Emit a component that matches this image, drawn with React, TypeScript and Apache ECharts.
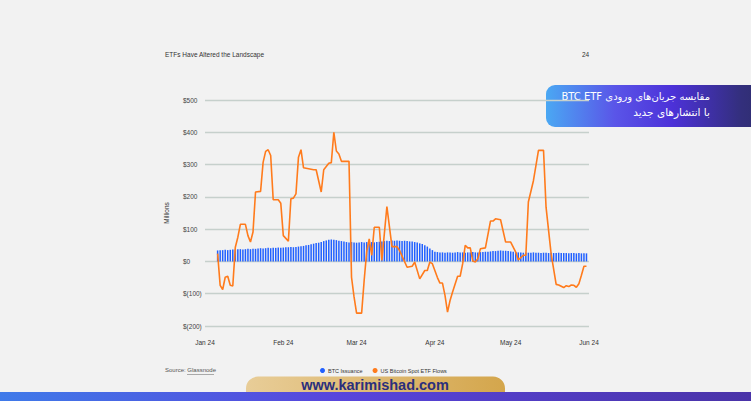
import React, { useEffect, useRef } from "react";
import * as echarts from "echarts";

// ---- data ----
const monthNames = ["Jan", "Feb", "Mar", "Apr", "May", "Jun"];
const yTicks = [-200, -100, 0, 100, 200, 300, 400, 500];
const issuanceStart = "2024-01-06";
// BTC Issuance, $M per day (from 2024-01-06 to 2024-05-31)
const issuance = [
  34, 35, 35, 36, 35, 36,
  37, 37, 38, 38, 37, 38, 39, 38, 39, 39,
  40, 41, 40, 41, 42, 41, 42, 42, 43, 42,
  43, 44, 44, 45, 44, 45, 46,
  47, 48, 50, 51, 53,
  55, 57, 58, 60,
  63, 65, 67, 68, 67,
  66, 64, 63, 62,
  60, 59, 60, 59, 58, 59, 60, 59, 60, 61, 60, 59, 60, 61, 62,
  63, 64, 63, 65, 64, 65, 64, 63, 64, 63, 62, 62,
  60, 59, 56, 54, 50, 46, 40, 35,
  30, 29, 28, 28, 27, 28, 28, 27, 28, 29, 28, 28, 27, 28, 28, 29, 28, 28, 29, 29, 30, 30,
  31, 32, 32, 33, 34, 33, 33, 32, 31, 30,
  29, 28, 28, 27, 28, 27, 27, 28, 27, 27, 26, 27, 27, 26, 27, 26, 26, 27, 26, 26, 26, 25, 26, 26, 25, 26, 25, 25, 25,
];
// US Bitcoin Spot ETF Flows, $M (vertices)
const flowDates = [
  "2024-01-06", "2024-01-07", "2024-01-08", "2024-01-09", "2024-01-10", "2024-01-11", "2024-01-12",
  "2024-01-13", "2024-01-14", "2024-01-15", "2024-01-17", "2024-01-18", "2024-01-19", "2024-01-20",
  "2024-01-21", "2024-01-23", "2024-01-24", "2024-01-25", "2024-01-26", "2024-01-27", "2024-01-28",
  "2024-01-30", "2024-01-31", "2024-02-01", "2024-02-03", "2024-02-04", "2024-02-05", "2024-02-06",
  "2024-02-07", "2024-02-08", "2024-02-09", "2024-02-13", "2024-02-14", "2024-02-16", "2024-02-17",
  "2024-02-19", "2024-02-20", "2024-02-21", "2024-02-22", "2024-02-23", "2024-02-24", "2024-02-27",
  "2024-02-28", "2024-02-29", "2024-03-01", "2024-03-03", "2024-03-04", "2024-03-05", "2024-03-06",
  "2024-03-07", "2024-03-08", "2024-03-10", "2024-03-11", "2024-03-13", "2024-03-15", "2024-03-17",
  "2024-03-18", "2024-03-21", "2024-03-23", "2024-03-24", "2024-03-26", "2024-03-28", "2024-03-29",
  "2024-03-30", "2024-03-31", "2024-04-02", "2024-04-03", "2024-04-04", "2024-04-05", "2024-04-06",
  "2024-04-07", "2024-04-08", "2024-04-10", "2024-04-11", "2024-04-12", "2024-04-13", "2024-04-14",
  "2024-04-15", "2024-04-16", "2024-04-17", "2024-04-18", "2024-04-19", "2024-04-21", "2024-04-23",
  "2024-04-24", "2024-04-25", "2024-04-27", "2024-04-29", "2024-05-01", "2024-05-03", "2024-05-04",
  "2024-05-06", "2024-05-07", "2024-05-08", "2024-05-10", "2024-05-12", "2024-05-14", "2024-05-15",
  "2024-05-17", "2024-05-19", "2024-05-20", "2024-05-22", "2024-05-23", "2024-05-24", "2024-05-25",
  "2024-05-26", "2024-05-27", "2024-05-28", "2024-05-29", "2024-05-30", "2024-05-31",
];
const flowValues = [
  24, -74, -87, -49, -46, -74, -76,
  44, 75, 115, 115, 80, 60, 91,
  215, 217, 307, 341, 346, 328, 191,
  191, 180, 80, 63, 194, 196, 209,
  323, 346, 290, 284, 284, 215, 284,
  304, 306, 400, 342, 333, 310, 310,
  -49, -110, -160, -160, -59, 30, 70,
  19, 106, 106, 3, 170, 46, 46,
  34, -18, -15, -2, -54, -28, -28,
  -2, -7, -50, -67, -67, -105, -157,
  -121, -95, -46, -46, -7, 50, 42,
  42, 1, -2, 8, 39, 42, 125,
  125, 132, 129, 60, 60, 29, 5,
  19, 19, 184, 250, 344, 344, 168,
  24, -71, -73, -81, -75, -78, -73,
  -74, -80, -69, -43, -15, -15, -15,
];

const dates: string[] = [];
for (let i = 0; i <= 152; i++) {
  dates.push(new Date(Date.UTC(2024, 0, 1 + i)).toISOString().slice(0, 10));
}

const fmtMoney = (v: number) => (v < 0 ? `$(${-v})` : `$${v}`);

export default function App() {
  const ref = useRef<HTMLDivElement>(null);
  useEffect(() => {
    if (!ref.current) return;
    const chart = echarts.init(ref.current, undefined, { renderer: "svg" });
    const startIdx = dates.indexOf(issuanceStart);
    const barData = dates.map((_, i) =>
      i >= startIdx && i < startIdx + issuance.length ? issuance[i - startIdx] : null
    );
    const n = Math.min(flowDates.length, flowValues.length);
    const lineData = flowDates.slice(0, n).map((d, i) => [dates.indexOf(d), flowValues[i]]);
    const font = "Liberation Sans, Arial, sans-serif";
    const persianFont = "DejaVu Sans, Noto Sans, sans-serif";

    chart.setOption({
      animation: false,
      backgroundColor: "#f2f2f2",
      grid: { left: 205, right: 162, top: 100, bottom: 75 },
      legend: {
        left: 320,
        top: 367.5,
        padding: 0,
        icon: "circle",
        itemWidth: 5,
        itemHeight: 5,
        itemGap: 10,
        textStyle: { fontSize: 5.5, color: "#333", fontFamily: font, padding: [0, 0, 0, -2] },
        data: ["BTC Issuance", "US Bitcoin Spot ETF Flows"],
      },
      xAxis: {
        type: "category",
        data: dates,
        boundaryGap: false,
        axisLine: { show: false },
        axisTick: { show: false },
        splitLine: { show: false },
        axisLabel: {
          interval: (_i: number, v: string) => v.endsWith("-01"),
          formatter: (v: string) => `${monthNames[parseInt(v.slice(5, 7), 10) - 1]} 24`,
          fontSize: 6.5,
          color: "#333",
          fontFamily: font,
          margin: 13,
        },
      },
      yAxis: {
        type: "value",
        min: -200,
        max: 500,
        interval: 100,
        name: "Millions",
        nameLocation: "middle",
        nameRotate: 90,
        nameGap: 35,
        nameTextStyle: { fontSize: 6.5, color: "#333", fontFamily: font },
        axisLine: { show: false },
        axisTick: { show: false },
        splitLine: { lineStyle: { color: "#c6d0cc", width: 1.3 } },
        axisLabel: {
          formatter: (v: number) => (yTicks.includes(v) ? fmtMoney(v) : ""),
          align: "left",
          margin: 22,
          fontSize: 6.5,
          color: "#444",
          fontFamily: font,
        },
      },
      series: [
        {
          name: "BTC Issuance",
          type: "bar",
          data: barData,
          barWidth: 1.5,
          itemStyle: { color: "#2160ff" },
        },
        {
          name: "US Bitcoin Spot ETF Flows",
          type: "line",
          data: lineData,
          symbol: "none",
          lineStyle: { color: "#ff7b1c", width: 1.6 },
          itemStyle: { color: "#ff7b1c" },
        },
      ],
      graphic: [
        {
          type: "text",
          left: 165,
          top: 51,
          style: { text: "ETFs Have Altered the Landscape", fontSize: 6.5, fill: "#333", fontFamily: font },
        },
        {
          type: "text",
          left: 582,
          top: 51,
          style: { text: "24", fontSize: 6.5, fill: "#333", fontFamily: font },
        },
        {
          type: "text",
          left: 165,
          top: 367,
          style: { text: "Source: Glassnode", fontSize: 6, fill: "#555", fontFamily: font },
        },
        {
          type: "line",
          shape: { x1: 187, y1: 374.5, x2: 214, y2: 374.5 },
          style: { stroke: "#777", lineWidth: 0.6 },
        },
        // Persian badge
        {
          type: "rect",
          shape: { x: 546, y: 85, width: 230, height: 42, r: 9 },
          style: {
            fill: new echarts.graphic.LinearGradient(0, 0, 1, 0, [
              { offset: 0, color: "#4aa8f3" },
              { offset: 0.3, color: "#5a55e8" },
              { offset: 0.55, color: "#4c31d8" },
              { offset: 0.85, color: "#332f7c" },
              { offset: 1, color: "#2c2d66" },
            ]),
          },
        },
        {
          type: "text",
          x: 710,
          y: 96,
          style: {
            text: "\u202Bمقایسه جریان‌های ورودی BTC ETF\u202C",
            fontSize: 10,
            fill: "#ffffff",
            fontFamily: persianFont,
            align: "right",
            verticalAlign: "middle",
          },
        },
        {
          type: "text",
          x: 710,
          y: 112,
          style: {
            text: "\u202Bبا انتشارهای جدید\u202C",
            fontSize: 10.5,
            fill: "#ffffff",
            fontFamily: persianFont,
            align: "right",
            verticalAlign: "middle",
          },
        },
        // footer pill
        {
          type: "rect",
          shape: { x: 246, y: 376.5, width: 259, height: 30, r: 12 },
          style: {
            fill: new echarts.graphic.LinearGradient(0, 0, 1, 0, [
              { offset: 0, color: "#e8cd98" },
              { offset: 1, color: "#d4a64c" },
            ]),
          },
        },
        {
          type: "text",
          x: 375,
          y: 385,
          style: {
            text: "www.karimishad.com",
            fontSize: 14.5,
            fontWeight: "bold",
            fill: "#2b2f7c",
            fontFamily: font,
            align: "center",
            verticalAlign: "middle",
          },
        },
        {
          type: "rect",
          shape: { x: 0, y: 392, width: 751, height: 9 },
          style: {
            fill: new echarts.graphic.LinearGradient(0, 0, 1, 0, [
              { offset: 0, color: "#3f7ae9" },
              { offset: 0.45, color: "#5845dc" },
              { offset: 1, color: "#4a33a8" },
            ]),
          },
        },
      ],
    });
    return () => chart.dispose();
  }, []);
  return (
    <div
      ref={ref}
      style={{ position: "fixed", left: 0, top: 0, width: 751, height: 401 }}
    />
  );
}
